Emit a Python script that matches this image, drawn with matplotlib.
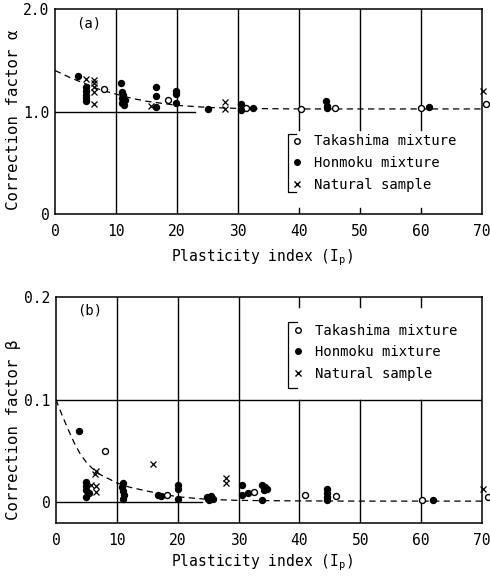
import numpy as np
import matplotlib
matplotlib.use("Agg")
import matplotlib.pyplot as plt
from matplotlib.lines import Line2D

plt.rcParams['font.family'] = ['DejaVu Sans Mono']
plt.rcParams['mathtext.fontset'] = 'custom'
plt.rcParams['mathtext.rm'] = 'DejaVu Sans Mono'
plt.rcParams['font.size'] = 10

# ---- panel (a): correction factor alpha
a_tak_x = [8.1, 18.5, 31.3, 40.4, 45.9, 60.0, 70.6]
a_tak_y = [1.22, 1.11, 1.03, 1.02, 1.03, 1.03, 1.07]
a_hon_x = [3.7, 5.1, 5.1, 5.1, 5.1, 5.1, 10.9, 11.0, 11.2, 11.0, 11.4, 11.0, 11.3,
           16.6, 16.6, 16.6, 19.8, 19.8, 19.8, 25.1, 30.5, 30.5, 32.5, 44.4, 44.6, 44.6, 61.3]
a_hon_y = [1.35, 1.24, 1.20, 1.16, 1.13, 1.10, 1.28, 1.19, 1.16, 1.13, 1.11, 1.08, 1.06,
           1.24, 1.15, 1.04, 1.20, 1.17, 1.08, 1.02, 1.07, 1.01, 1.03, 1.10, 1.05, 1.03, 1.04]
a_nat_x = [5.1, 6.4, 6.4, 6.4, 6.4, 6.4, 15.7, 27.9, 27.9, 70.2]
a_nat_y = [1.32, 1.31, 1.28, 1.24, 1.19, 1.07, 1.05, 1.09, 1.02, 1.20]
a_fit_x = [0, 2.5, 5, 7.5, 10, 12.5, 15, 17.5, 20, 25, 30, 40, 50, 60, 70]
a_fit_y = [1.40, 1.33, 1.27, 1.21, 1.17, 1.13, 1.10, 1.08, 1.06, 1.04, 1.03, 1.025, 1.025, 1.025, 1.025]

# ---- panel (b): correction factor beta
b_tak_x = [8.0, 18.3, 32.5, 40.9, 46.0, 60.1, 71.0]
b_tak_y = [0.050, 0.0075, 0.010, 0.007, 0.006, 0.002, 0.005]
b_hon_x = [3.8, 5.0, 5.0, 5.0, 5.0, 5.4, 11.0, 10.9, 11.0, 11.2, 11.0, 16.8, 17.3,
           20.1, 20.1, 20.1, 24.8, 25.4, 25.8, 25.2, 24.9, 30.6, 30.6, 31.6, 33.9,
           34.3, 34.6, 34.2, 33.9, 44.6, 44.6, 44.6, 44.6, 61.9]
b_hon_y = [0.070, 0.020, 0.016, 0.012, 0.005, 0.009, 0.019, 0.015, 0.011, 0.007, 0.003,
           0.007, 0.006, 0.017, 0.013, 0.003, 0.005, 0.006, 0.003, 0.002, 0.003, 0.017,
           0.007, 0.009, 0.017, 0.015, 0.013, 0.012, 0.002, 0.013, 0.009, 0.005, 0.002, 0.002]
b_nat_x = [6.6, 6.4, 5.8, 6.5, 6.5, 16.0, 27.9, 27.9, 70.2]
b_nat_y = [0.031, 0.028, 0.017, 0.016, 0.010, 0.037, 0.024, 0.019, 0.013]
b_fit_x = [0, 1, 2, 3, 4, 5, 6, 7, 8, 10, 12, 15, 20, 25, 30, 40, 50, 60, 70]
b_fit_y = [0.100, 0.085, 0.071, 0.058, 0.047, 0.039, 0.033, 0.028, 0.025, 0.019, 0.015,
           0.011, 0.0055, 0.003, 0.002, 0.0015, 0.0013, 0.0013, 0.0013]

legend_names = ['Takashima mixture', 'Honmoku mixture', 'Natural sample']
xlabel = r'Plasticity index ($\mathregular{I_p}$)'

W, H = 490, 577
fig = plt.figure(figsize=(W / 100, H / 100), dpi=100)
ax1 = fig.add_axes([55 / W, 1 - 214 / H, 427 / W, 205 / H])
ax2 = fig.add_axes([56 / W, 1 - 523 / H, 426 / W, 226 / H])

lw = 1.0


def draw_points(ax, tx, ty, hx, hy, nx, ny, fx, fy):
    ax.plot(fx, fy, ls=(0, (5, 3.5)), color='black', lw=0.9, zorder=2)
    ax.plot(tx, ty, 'o', ms=4.3, mfc='white', mec='black', mew=1.0, clip_on=False, zorder=4)
    ax.plot(hx, hy, 'o', ms=4.3, color='black', clip_on=False, zorder=4)
    ax.plot(nx, ny, 'x', ms=4, color='black', mew=0.9, clip_on=False, zorder=4)


# panel (a)
ax1.set_xlim(0, 70)
ax1.set_ylim(0, 2.0)
for x in [10, 20, 30]:
    ax1.axvline(x, color='black', lw=lw, zorder=1)
for x in [40, 50, 60]:
    ax1.plot([x, x], [0.82, 2.0], color='black', lw=lw, zorder=1)
    ax1.plot([x, x], [0, 0.06], color='black', lw=lw, zorder=1)
ax1.plot([0, 23], [1.0, 1.0], color='black', lw=lw, zorder=1)
draw_points(ax1, a_tak_x, a_tak_y, a_hon_x, a_hon_y, a_nat_x, a_nat_y, a_fit_x, a_fit_y)
ax1.set_yticks([0, 1.0, 2.0], ['0', '1.0', '2.0'])
ax1.set_xticks(np.arange(0, 71, 10))
ax1.text(0.05, 0.93, '(a)', transform=ax1.transAxes, ha='left', va='center')

# panel (b)
ax2.set_xlim(0, 70)
ax2.set_ylim(-0.02, 0.2)
for x in [10, 20, 30]:
    ax2.axvline(x, color='black', lw=lw, zorder=1)
for x in [40, 50, 60]:
    ax2.plot([x, x], [0.19, 0.2], color='black', lw=lw, zorder=1)
    ax2.plot([x, x], [-0.02, 0.1], color='black', lw=lw, zorder=1)
ax2.axhline(0.1, color='black', lw=lw, zorder=1)
ax2.plot([0, 24], [0, 0], color='black', lw=lw, zorder=1)
draw_points(ax2, b_tak_x, b_tak_y, b_hon_x, b_hon_y, b_nat_x, b_nat_y, b_fit_x, b_fit_y)
ax2.set_yticks([0, 0.1, 0.2], ['0', '0.1', '0.2'])
ax2.set_xticks(np.arange(0, 71, 10))
ax2.text(0.05, 0.94, '(b)', transform=ax2.transAxes, ha='left', va='center')

for ax in (ax1, ax2):
    for s in ax.spines.values():
        s.set_linewidth(1.1)
    ax.tick_params(length=0, labelsize=10.5)
    ax.tick_params(axis='y', pad=4)
    ax.tick_params(axis='x', pad=7)

# axis titles
fig.text(14 / W, 1 - 120 / H, 'Correction factor α', rotation=90, ha='center', va='center', fontsize=11.3)
fig.text(14 / W, 1 - 430 / H, 'Correction factor β', rotation=90, ha='center', va='center', fontsize=11.3)
fig.text(262 / W, 1 - 258 / H, xlabel, ha='center', va='center', fontsize=10.5)
fig.text(262 / W, 1 - 563 / H, xlabel, ha='center', va='center', fontsize=10.5)

# legends with a bracket on the left
handles = [Line2D([], [], marker='o', ls='', ms=4, mfc='white', mec='black'),
           Line2D([], [], marker='o', ls='', ms=4, color='black'),
           Line2D([], [], marker='x', ls='', ms=4, color='black')]


def add_legend(ax, bx, by, btop, bbot):
    ax.legend(handles, legend_names, loc='upper left', bbox_to_anchor=(bx, by),
              frameon=False, handlelength=0.6, handletextpad=0.9,
              labelspacing=0.55, borderaxespad=0, fontsize=10)
    ax.plot([bx + 0.02, bx, bx, bx + 0.02], [btop, btop, bbot, bbot],
            transform=ax.transAxes, color='black', lw=0.9, clip_on=False)


add_legend(ax1, 0.545, 0.995 - (134 - 9) / 205 + 0.03, 1 - (134 - 9) / 205, 1 - (192 - 9) / 205)
add_legend(ax2, 0.545, 1 - (318 - 297) / 226, 1 - (322 - 297) / 226, 1 - (388 - 297) / 226)

fig.savefig('out.png', dpi=100)
